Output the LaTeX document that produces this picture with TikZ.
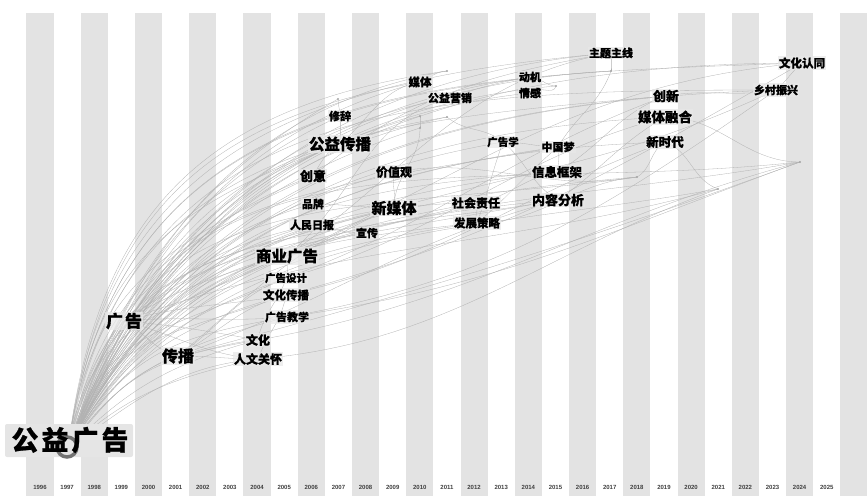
\documentclass[tikz,border=0pt]{standalone}
\usepackage{fontspec}
\newfontfamily\cjk{Noto Sans CJK SC}[FakeBold=0.7]
\setsansfont{Liberation Sans}
\begin{document}
\begin{tikzpicture}[x=1pt,y=1pt,
  stripe/.style={fill=black!11, draw=none},
  yr/.style={font=\sffamily\bfseries\fontsize{6}{6}\selectfont, text=black!75, inner sep=0pt},
  kw/.style={font=\cjk\bfseries\fontsize{#1}{#1}\selectfont, fill=black!9, fill opacity=0.75, text opacity=1, inner sep=1.2pt, text=black},
  lnk/.style={draw=black!30, line width=0.3pt},
  dotm/.style={circle, fill=black!35, inner sep=0pt, minimum size=2.4pt},
]
\useasboundingbox (0,0) rectangle (867,501);
% stripes
\foreach \i in {0,2,...,30} {
  \fill[stripe] ({40+27.13*\i-13.57},5) rectangle ({40+27.13*\i+13.57},488);
}
% years
\foreach \i in {0,...,29} {
  \pgfmathtruncatemacro{\yy}{1996+\i}
  \node[yr] (yr\i) at ({40+27.13*\i},14) {\yy};
}
% keyword positions
\coordinate (O) at (68,52);
\coordinate (gg) at (124,180);
\coordinate (cb) at (178,145);
\coordinate (sygg) at (287,245);
\coordinate (ggsj) at (286,223);
\coordinate (whcb) at (286,206);
\coordinate (ggjx) at (287,184);
\coordinate (wh) at (258,161);
\coordinate (rwgh) at (258,142);
\coordinate (mt) at (420,419);
\coordinate (gyyx) at (450,403);
\coordinate (xc) at (340,385);
\coordinate (gycb) at (340,357);
\coordinate (ggx) at (503,359);
\coordinate (cy) at (313,325);
\coordinate (jzg) at (394,329);
\coordinate (pp) at (313,297);
\coordinate (xmt) at (394,293);
\coordinate (shzr) at (476,298);
\coordinate (rmrb) at (312,276);
\coordinate (fzcl) at (477,278);
\coordinate (xch) at (367,268);
\coordinate (ztzx) at (611,448);
\coordinate (dj) at (530,424);
\coordinate (qg) at (530,408);
\coordinate (zgm) at (558,354);
\coordinate (xxkj) at (557,329);
\coordinate (nrfx) at (558,301);
\coordinate (cx) at (666,405);
\coordinate (mtrh) at (665,384);
\coordinate (xsd) at (665,359);
\coordinate (whrt) at (802,438);
\coordinate (xczx) at (776,411);
\coordinate (d1) at (338,402);
\coordinate (d2) at (447,430);
\coordinate (d3) at (420,385);
\coordinate (d4) at (420,373);
\coordinate (d5) at (447,384);
\coordinate (d6) at (556,415);
\coordinate (d7) at (611,430);
\coordinate (d8) at (718,312);
\coordinate (d9) at (637,324);
\coordinate (d10) at (800,339);
% fan from the origin
\foreach \t/\o/\n in {gg/78/235, gg/70/250, cb/60/200, wh/55/195, rwgh/45/185, rwgh/52/192,
  ggjx/65/195, ggsj/70/200, whcb/68/195, sygg/75/200, sygg/72/190, rmrb/76/195, pp/77/195,
  cy/79/200, gycb/80/200, gycb/78/195, xc/82/205, xch/74/190, xmt/75/192, xmt/73/188,
  jzg/77/195, shzr/72/190, fzcl/70/188, ggx/75/190, mt/80/195, gyyx/78/190, dj/78/188,
  qg/76/186, zgm/74/188, xxkj/72/186, nrfx/70/185, ztzx/80/185, cx/77/185, mtrh/75/183,
  xsd/73/182, whrt/79/180, xczx/76/182, d1/82/210, d2/81/190, d3/79/195, d4/77/198,
  d5/76/192, d6/78/185, d7/80/183, d8/66/190, d9/70/185, d10/68/190} {
  \pgfmathsetmacro{\oo}{\o-9}
  \draw[lnk] (O) to[out=\oo, in=\n] (\t);
}
\foreach \t/\o/\n in {sygg/85/205, gycb/86/200, xmt/84/195, mt/86/190, ztzx/87/185,
  whrt/86/182, cx/85/185, zgm/83/190, shzr/82/195, cy/86/205, d2/87/188, d7/86/184,
  xczx/84/180, d10/80/186, d9/82/188, nrfx/81/190, ggsj/80/205, whcb/78/200,
  ggjx/62/190, wh/58/190, rmrb/70/192, xch/68/188, fzcl/66/186, xxkj/67/184} {
  \pgfmathsetmacro{\oo}{\o-4}
  \draw[lnk] (O) to[out=\oo, in=\n, looseness=1.15] (\t);
}
% links between keywords
\foreach \a/\b/\o/\n in {gg/wh/-5/170, gg/cb/-30/165, gg/rwgh/-15/175, gg/ggjx/5/185,
  gg/sygg/30/195, gg/whcb/15/190, gg/gycb/45/200, gg/xmt/35/195, gg/d8/20/195,
  cb/rwgh/0/180, cb/wh/10/185, cb/whcb/30/195, cb/ggsj/35/200, cb/xmt/40/200,
  cb/d10/15/200, cb/nrfx/20/195, wh/sygg/80/-80, rwgh/whcb/70/-100, wh/d10/10/195,
  rwgh/d8/5/200, ggjx/xczx/10/215, ggjx/d10/8/200, whcb/whrt/15/210, whcb/xsd/12/200,
  ggsj/mtrh/15/195, ggsj/cx/20/200, sygg/ztzx/35/190, sygg/whrt/25/185, sygg/gyyx/40/195,
  sygg/xmt/15/200, gycb/mt/40/190, gycb/xc/90/270, xc/d1/90/270, cy/gycb/60/210,
  pp/xmt/0/180, rmrb/xch/-5/185, xmt/shzr/5/180, xmt/jzg/80/-100, shzr/fzcl/-60/120,
  fzcl/zgm/40/220, fzcl/ggx/70/250, ggx/nrfx/-40/150, zgm/xxkj/-80/80, xxkj/cx/30/200,
  nrfx/mtrh/35/210, xch/nrfx/10/190, mt/d2/20/180, gyyx/dj/20/190, d5/ggx/-40/140,
  d4/xmt/-90/90, xmt/xczx/15/205, cy/ztzx/40/190, jzg/d9/10/190, d9/xsd/30/210,
  d6/qg/-100/60, dj/d6/0/180, d7/ztzx/90/270, xczx/whrt/40/220, xsd/d8/-20/160,
  mtrh/d10/0/180, cx/xczx/10/190, gycb/d5/20/190, d3/d4/-90/90, ggx/zgm/0/180,
  shzr/xxkj/10/190, fzcl/d9/0/185, zgm/d7/60/250} {
  \draw[lnk] (\a) to[out=\o, in=\n] (\b);
}
% small node dots
\foreach \d in {d1,d2,d3,d4,d5,d6,d7,d8,d9,d10} {
  \node[dotm] (m\d) at (\d) {};
}
% origin keyword
\fill[black!10, rounded corners=2pt] (5,44) rectangle (133,77);
\draw[black!55, line width=3.5pt] (67,54) circle (10);
\node[font=\cjk\bfseries\fontsize{27}{27}\selectfont, text=black, inner sep=0pt] (Lgygg) at (70,61) {公\hspace{3pt}益\hspace{3pt}广\hspace{3pt}告};
% keyword labels
\node[kw=17] (Lgg) at (gg) {广\hspace{2pt}告};
\node[kw=16] (Lcb) at (cb) {传播};
\node[kw=15.5] (Lsygg) at (sygg) {商业广告};
\node[kw=10.5] (Lggsj) at (ggsj) {广告设计};
\node[kw=11.5] (Lwhcb) at (whcb) {文化传播};
\node[kw=11] (Lggjx) at (ggjx) {广告教学};
\node[kw=12] (Lwh) at (wh) {文化};
\node[kw=12] (Lrwgh) at (rwgh) {人文关怀};
\node[kw=11.5] (Lmt) at (mt) {媒体};
\node[kw=11] (Lgyyx) at (gyyx) {公益营销};
\node[kw=11] (Lxc) at (xc) {修辞};
\node[kw=15.5] (Lgycb) at (gycb) {公益传播};
\node[kw=10.5] (Lggx) at (ggx) {广告学};
\node[kw=13] (Lcy) at (cy) {创意};
\node[kw=12] (Ljzg) at (jzg) {价值观};
\node[kw=11] (Lpp) at (pp) {品牌};
\node[kw=15] (Lxmt) at (xmt) {新媒体};
\node[kw=12] (Lshzr) at (shzr) {社会责任};
\node[kw=11] (Lrmrb) at (rmrb) {人民日报};
\node[kw=11.5] (Lfzcl) at (fzcl) {发展策略};
\node[kw=11] (Lxch) at (xch) {宣传};
\node[kw=11] (Lztzx) at (ztzx) {主题主线};
\node[kw=11] (Ldj) at (dj) {动机};
\node[kw=11] (Lqg) at (qg) {情感};
\node[kw=11] (Lzgm) at (zgm) {中国梦};
\node[kw=12.5] (Lxxkj) at (xxkj) {信息框架};
\node[kw=13] (Lnrfx) at (nrfx) {内容分析};
\node[kw=13] (Lcx) at (cx) {创新};
\node[kw=13.5] (Lmtrh) at (mtrh) {媒体融合};
\node[kw=12.5] (Lxsd) at (xsd) {新时代};
\node[kw=11.5] (Lwhrt) at (whrt) {文化认同};
\node[kw=11] (Lxczx) at (xczx) {乡村振兴};
\end{tikzpicture}
\end{document}
